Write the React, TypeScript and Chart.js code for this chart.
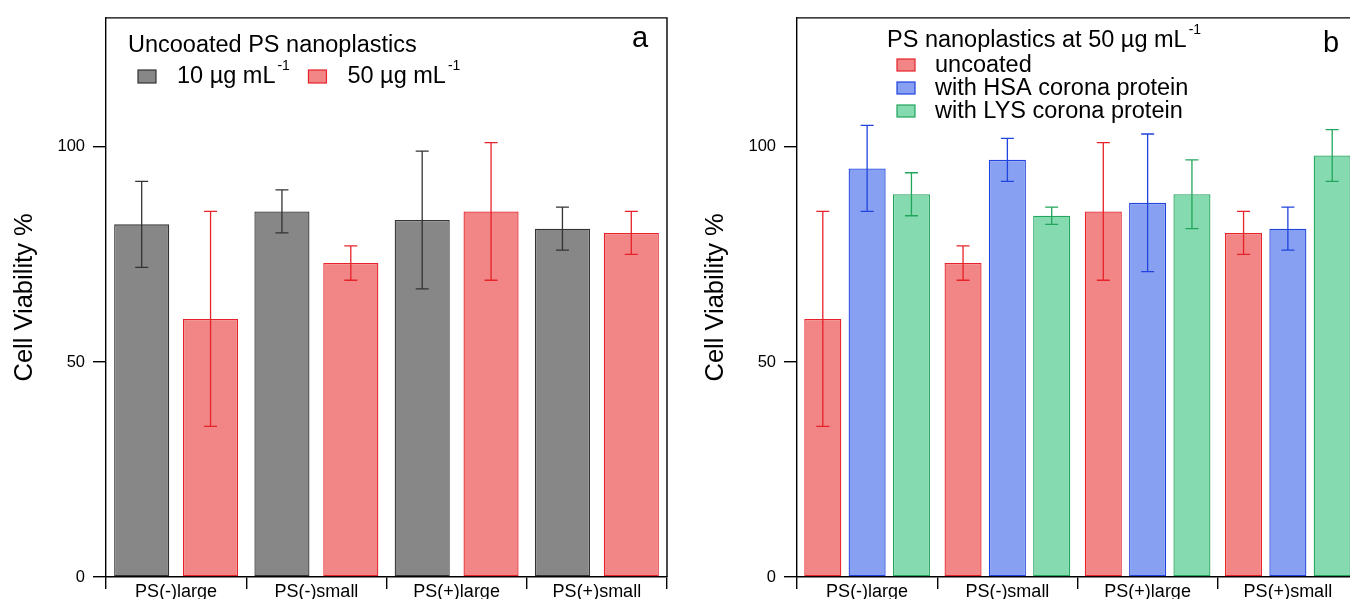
import React, { useEffect, useRef } from "react";
import { Chart, registerables } from "chart.js";

Chart.register(...registerables);

const FONT = '"Liberation Sans", Arial, Helvetica, sans-serif';

const categories = ["PS(-)large", "PS(-)small", "PS(+)large", "PS(+)small"];
const yTickValues = [0, 50, 100];
const yMax = 130;

// Panel a: uncoated PS nanoplastics
const a10Mean = [82, 85, 83, 81];
const a10High = [92, 90, 99, 86];
const a10Low = [72, 80, 67, 76];
const a50Mean = [60, 73, 85, 80];
const a50High = [85, 77, 101, 85];
const a50Low = [35, 69, 69, 75];

// Panel b: PS nanoplastics at 50 µg/mL
const bUncoatedMean = [60, 73, 85, 80];
const bUncoatedHigh = [85, 77, 101, 85];
const bUncoatedLow = [35, 69, 69, 75];
const bHsaMean = [95, 97, 87, 81];
const bHsaHigh = [105, 102, 103, 86];
const bHsaLow = [85, 92, 71, 76];
const bLysMean = [89, 84, 89, 98];
const bLysHigh = [94, 86, 97, 104];
const bLysLow = [84, 82, 81, 92];

const GRAY = { fill: "#878787", line: "#333333" };
const RED = { fill: "#F28585", line: "#E6222A" };
const BLUE = { fill: "#87A0F2", line: "#2143DE" };
const GREEN = { fill: "#85DAB0", line: "#22A55C" };

type LegendItem = { label: string; sup?: string; color: { fill: string; line: string } };

const errorBarPlugin = {
  id: "errorBars",
  afterDatasetsDraw(chart: any) {
    const ctx = chart.ctx;
    const y = chart.scales.y;
    chart.data.datasets.forEach((ds: any, di: number) => {
      const meta = chart.getDatasetMeta(di);
      ctx.save();
      ctx.strokeStyle = ds.borderColor;
      ctx.lineWidth = 1.3;
      meta.data.forEach((bar: any, i: number) => {
        const x = bar.x;
        const yh = y.getPixelForValue(ds.errHigh[i]);
        const yl = y.getPixelForValue(ds.errLow[i]);
        const c = 6.5;
        ctx.beginPath();
        ctx.moveTo(x, yh);
        ctx.lineTo(x, yl);
        ctx.moveTo(x - c, yh);
        ctx.lineTo(x + c, yh);
        ctx.moveTo(x - c, yl);
        ctx.lineTo(x + c, yl);
        ctx.stroke();
      });
      ctx.restore();
    });
  },
};

const framePlugin = {
  id: "frame",
  afterDraw(chart: any) {
    const { ctx, chartArea } = chart;
    ctx.save();
    ctx.strokeStyle = "#000";
    ctx.lineWidth = 1.4;
    ctx.beginPath();
    ctx.moveTo(chartArea.left, chartArea.top);
    ctx.lineTo(chartArea.right, chartArea.top);
    ctx.lineTo(chartArea.right, chartArea.bottom);
    ctx.stroke();
    ctx.restore();
  },
};

type PanelProps = {
  left: number;
  datasets: any[];
  title: string;
  titleSup: string;
  titleX: number;
  titleY: number;
  legend: LegendItem[];
  legendLayout: "row" | "column";
  letter: string;
  letterX: number;
  letterY: number;
  catPct: number;
  barPct: number;
};

function drawWithSup(ctx: any, text: string, sup: string | undefined, x: number, y: number) {
  ctx.font = `23.5px ${FONT}`;
  ctx.fillText(text, x, y);
  if (sup) {
    const w = ctx.measureText(text).width;
    ctx.font = `14px ${FONT}`;
    ctx.fillText(sup, x + w + 2, y - 13);
  }
}

function Panel(props: PanelProps) {
  const ref = useRef<HTMLCanvasElement | null>(null);
  useEffect(() => {
    if (!ref.current) return;
    const legendPlugin = {
      id: "customLegend",
      afterDraw(chart: any) {
        const ctx = chart.ctx;
        ctx.save();
        ctx.fillStyle = "#000";
        ctx.textBaseline = "alphabetic";
        ctx.textAlign = "left";
        drawWithSup(ctx, props.title, props.titleSup, props.titleX, props.titleY);
        if (props.legendLayout === "row") {
          const base = props.titleY + 31;
          let x = props.titleX + 10;
          props.legend.forEach((item) => {
            ctx.fillStyle = item.color.fill;
            ctx.strokeStyle = item.color.line;
            ctx.lineWidth = 1.2;
            ctx.fillRect(x, base - 13, 18, 13);
            ctx.strokeRect(x, base - 13, 18, 13);
            ctx.fillStyle = "#000";
            drawWithSup(ctx, item.label, item.sup, x + 39, base);
            ctx.font = `23.5px ${FONT}`;
            const w = ctx.measureText(item.label).width;
            x = x + 39 + w + 33;
          });
        } else {
          let base = props.titleY + 25;
          props.legend.forEach((item) => {
            const bx = props.titleX + 10;
            ctx.fillStyle = item.color.fill;
            ctx.strokeStyle = item.color.line;
            ctx.lineWidth = 1.2;
            ctx.fillRect(bx, base - 13, 18, 12);
            ctx.strokeRect(bx, base - 13, 18, 12);
            ctx.fillStyle = "#000";
            drawWithSup(ctx, item.label, item.sup, props.titleX + 48, base);
            base += 23;
          });
        }
        ctx.font = `29px ${FONT}`;
        ctx.fillStyle = "#000";
        ctx.fillText(props.letter, props.letterX, props.letterY);
        ctx.restore();
      },
    };

    const chart = new Chart(ref.current, {
      type: "bar",
      data: {
        labels: categories,
        datasets: props.datasets.map((d) => ({
          ...d,
          borderWidth: 1.3,
          borderSkipped: false,
          categoryPercentage: props.catPct,
          barPercentage: props.barPct,
        })),
      },
      options: {
        animation: false,
        responsive: false,
        devicePixelRatio: 1,
        layout: { padding: { top: 14, right: 13, left: 0, bottom: 0 } },
        plugins: { legend: { display: false }, tooltip: { enabled: false }, title: { display: false } },
        scales: {
          x: {
            type: "category",
            offset: true,
            grid: {
              display: true,
              offset: true,
              drawOnChartArea: false,
              drawTicks: true,
              tickLength: 12,
              color: "#000",
              lineWidth: 1.4,
            },
            border: { display: true, color: "#000", width: 1.4 },
            ticks: {
              color: "#000",
              font: { family: FONT, size: 18 },
              padding: -8,
              maxRotation: 0,
              autoSkip: false,
            },
            afterFit: (s: any) => {
              s.height = 22;
            },
          },
          y: {
            min: 0,
            max: yMax,
            grid: {
              display: true,
              drawOnChartArea: false,
              drawTicks: true,
              tickLength: 13,
              color: "#000",
              lineWidth: 1.4,
            },
            border: { display: true, color: "#000", width: 1.4 },
            ticks: {
              color: "#000",
              font: { family: FONT, size: 16.5 },
              padding: 8,
            },
            title: {
              display: true,
              text: "Cell Viability %",
              color: "#000",
              font: { family: FONT, size: 25.5 },
              padding: { top: 10, bottom: 0 },
            },
            afterBuildTicks: (s: any) => {
              s.ticks = yTickValues.map((v) => ({ value: v }));
            },
            afterFit: (s: any) => {
              s.width = 106;
            },
          },
        },
      },
      plugins: [errorBarPlugin, framePlugin, legendPlugin],
    } as any);
    return () => chart.destroy();
  }, []);
  return (
    <canvas
      ref={ref}
      width={680}
      height={599}
      style={{ position: "absolute", left: props.left, top: 0, width: 680, height: 599, display: "block" }}
    />
  );
}

const mk = (label: string, mean: number[], hi: number[], lo: number[], c: { fill: string; line: string }) => ({
  label,
  data: mean,
  errHigh: hi,
  errLow: lo,
  backgroundColor: c.fill,
  borderColor: c.line,
});

export default function App() {
  const dsA = [
    mk("10 µg mL-1", a10Mean, a10High, a10Low, GRAY),
    mk("50 µg mL-1", a50Mean, a50High, a50Low, RED),
  ];
  const dsB = [
    mk("uncoated", bUncoatedMean, bUncoatedHigh, bUncoatedLow, RED),
    mk("with HSA corona protein", bHsaMean, bHsaHigh, bHsaLow, BLUE),
    mk("with LYS corona protein", bLysMean, bLysHigh, bLysLow, GREEN),
  ];
  return (
    <div
      style={{
        position: "absolute",
        left: 0,
        top: 0,
        width: 1350,
        height: 599,
        overflow: "hidden",
        background: "#fff",
      }}
    >
      <Panel
        left={0}
        datasets={dsA}
        title="Uncooated PS nanoplastics"
        titleSup=""
        titleX={128}
        titleY={52}
        legend={[
          { label: "10 µg mL", sup: "-1", color: GRAY },
          { label: "50 µg mL", sup: "-1", color: RED },
        ]}
        legendLayout="row"
        letter="a"
        letterX={632}
        letterY={47}
        catPct={0.982}
        barPct={0.8}
      />
      <Panel
        left={691}
        datasets={dsB}
        title="PS nanoplastics at 50 µg mL"
        titleSup="-1"
        titleX={196}
        titleY={47}
        legend={[
          { label: "uncoated", color: RED },
          { label: "with HSA corona protein", color: BLUE },
          { label: "with LYS corona protein", color: GREEN },
        ]}
        legendLayout="column"
        letter="b"
        letterX={632}
        letterY={52}
        catPct={0.948}
        barPct={0.836}
      />
    </div>
  );
}
